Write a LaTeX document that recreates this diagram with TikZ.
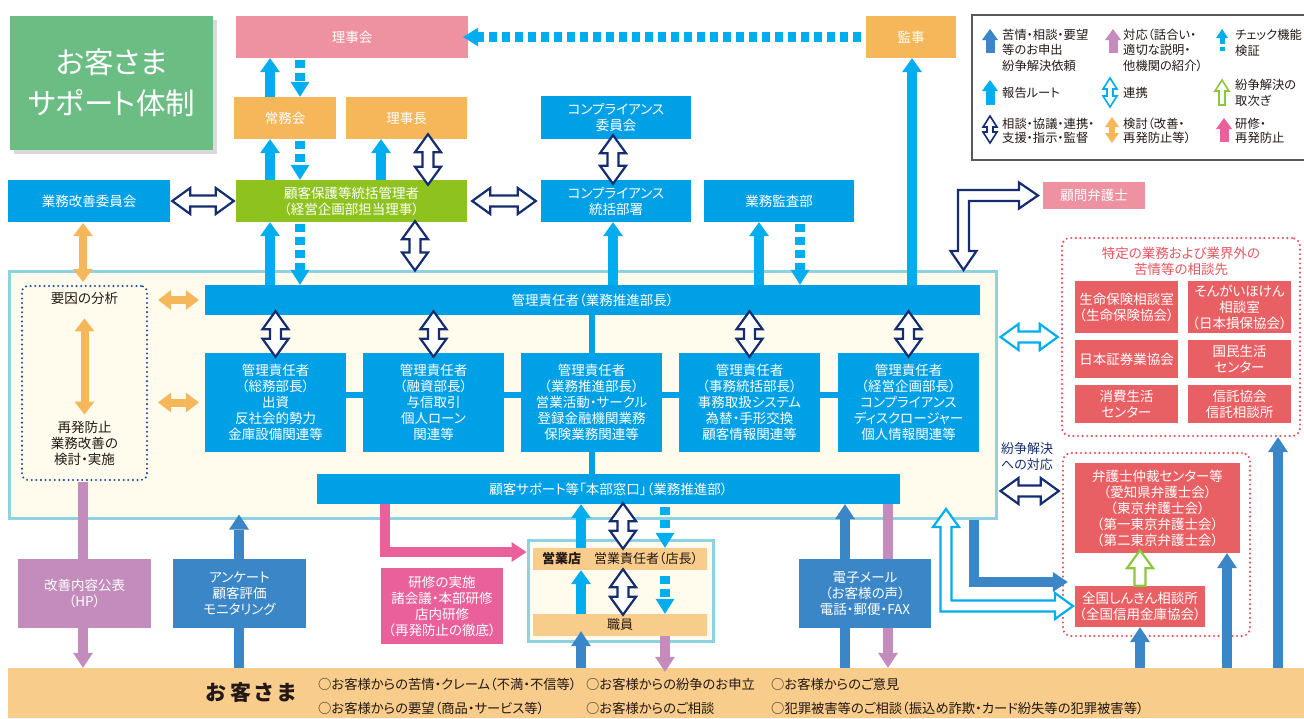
\documentclass[tikz,border=0pt]{standalone}
\usepackage{fontspec}
\setmainfont{Noto Sans CJK JP}[RawFeature={+palt}]
\usetikzlibrary{arrows.meta,calc,shadows}
\definecolor{cBlue}{RGB}{0,160,230}
\definecolor{cLBlue}{RGB}{0,174,239}
\definecolor{cSteel}{RGB}{58,134,199}
\definecolor{cPurple}{RGB}{196,140,188}
\definecolor{cPink}{RGB}{233,96,154}
\definecolor{cRose}{RGB}{238,145,160}
\definecolor{cOrange}{RGB}{246,182,90}
\definecolor{cOrangeL}{RGB}{248,204,138}
\definecolor{cGreen}{RGB}{141,194,31}
\definecolor{cTitle}{RGB}{107,189,132}
\definecolor{cRed}{RGB}{233,96,100}
\definecolor{cRedT}{RGB}{230,85,95}
\definecolor{cNavy}{RGB}{20,45,112}
\definecolor{cDot}{RGB}{31,78,158}
\definecolor{cCream}{RGB}{255,252,238}
\definecolor{cFrame}{RGB}{140,210,226}
\definecolor{cLGreen}{RGB}{141,198,63}
\definecolor{cText}{RGB}{35,24,21}
\pgfdeclarelayer{back}
\pgfdeclarelayer{mid}
\pgfsetlayers{back,mid,main}
\def\hdL{18pt}\def\hdH{13pt}\def\hdW{5.5pt}
\newcommand{\hdbl}[4]{%
  \coordinate (hA) at ($(#3)!#2pt!180:(#4)$);
  \coordinate (hB) at ($(#4)!#2pt!180:(#3)$);
  \draw[hol, draw=#1] (hA)
   -- ($(hA)!\hdL!(hB)!\hdH!90:(hB)$) -- ($(hA)!\hdL!(hB)!\hdW!90:(hB)$)
   -- ($(hB)!\hdL!(hA)!\hdW!-90:(hA)$) -- ($(hB)!\hdL!(hA)!\hdH!-90:(hA)$)
   -- (hB)
   -- ($(hB)!\hdL!(hA)!\hdH!90:(hA)$) -- ($(hB)!\hdL!(hA)!\hdW!90:(hA)$)
   -- ($(hA)!\hdL!(hB)!\hdW!-90:(hB)$) -- ($(hA)!\hdL!(hB)!\hdH!-90:(hB)$)
   -- cycle;}
\newcommand{\hsgl}[4]{%
  \coordinate (hA) at (#3);
  \coordinate (hB) at ($(#4)!#2pt!180:(#3)$);
  \draw[hol, draw=#1] ($(hA)!\hdW!90:(hB)$)
   -- ($(hB)!\hdL!(hA)!\hdW!-90:(hA)$) -- ($(hB)!\hdL!(hA)!\hdH!-90:(hA)$)
   -- (hB)
   -- ($(hB)!\hdL!(hA)!\hdH!90:(hA)$) -- ($(hB)!\hdL!(hA)!\hdW!90:(hA)$)
   -- ($(hA)!\hdW!-90:(hB)$) -- cycle;}
\tikzset{
 bx/.style={inner sep=0pt, text=white, align=center, font=\fontsize{13.5pt}{16pt}\selectfont},
 box/.style n args={3}{bx, fill=#1, minimum width=#2pt, minimum height=#3pt},
 tx/.style={inner sep=0pt, text=cText, align=center, font=\fontsize{13.5pt}{16pt}\selectfont},
 legt/.style={inner sep=0pt, text=cText, align=left, anchor=west, font=\fontsize{12.3pt}{15.5pt}\selectfont},
 bt/.style={inner sep=0pt, text=cText, anchor=west, font=\fontsize{13.3pt}{15pt}\selectfont},
 rep/.style={draw=cLBlue, line width=10pt, -{Triangle[width=20pt,length=14pt,line width=0pt]}},
 chk/.style={draw=cLBlue, line width=10pt, dash pattern=on 8pt off 5pt, -{Triangle[width=19pt,length=15pt,line width=0pt]}},
 cmp/.style={draw=cSteel, line width=10pt, -{Triangle[width=20pt,length=15pt,line width=0pt]}},
 rsp/.style={draw=cPurple, line width=10pt, -{Triangle[width=20pt,length=15pt,line width=0pt]}},
 trn/.style={draw=cPink, line width=10pt, -{Triangle[width=20pt,length=15pt,line width=0pt]}},
 orng/.style={draw=cOrange, line width=8pt, {Triangle[width=20pt,length=13pt,line width=0pt]}-{Triangle[width=20pt,length=13pt,line width=0pt]}},
 hol/.style={line width=2.2pt, fill=white, line join=miter},
 lnk/.style={draw=cBlue, line width=6pt},
 reddot/.style={draw=cRedT, dash pattern=on 0pt off 4.6pt, line cap=round, line width=2.4pt, rounded corners=8pt, inner sep=0pt},
}
\begin{document}
\begin{tikzpicture}[x=1pt,y=-1pt]
\useasboundingbox (0,0) rectangle (1304,718);
\foreach \n in {83,239,270,300,381,385,415,428,581,613,623,665,759,800,845,888,912,974,1140,1227,1278}{\coordinate (a\n) at (\n,0);}
\coordinate (d491) at (0,491);
\coordinate (d552) at (0,552);
\coordinate (d582) at (0,582);

\begin{pgfonlayer}{back}
\node[draw=cFrame, line width=3pt, fill=cCream, minimum width=987pt, minimum height=247pt, inner sep=0pt] (big) at (502.5,394.5) {};
\end{pgfonlayer}

% top nodes
\node[box={cTitle}{203}{134}, font=\fontsize{29.5pt}{41pt}\selectfont, drop shadow={shadow xshift=4pt,shadow yshift=-4pt,opacity=0.3}] (title) at (111.5,83) {お客さま\\サポート体制};
\node[box={cRose}{232}{42}] (rijikai) at (352,37) {理事会};
\node[box={cOrange}{90}{42}] (kanji) at (911,37) {監事};
\node[box={cOrange}{102}{42}] (jomu) at (285,118) {常務会};
\node[box={cOrange}{121}{42}] (rijicho) at (406.5,118) {理事長};
\node[box={cBlue}{150}{43}] (compI) at (616,117.5) {コンプライアンス\\委員会};
\node[box={cBlue}{162}{42}] (kaizen) at (89,201) {業務改善委員会};
\node[box={cGreen}{231}{42}] (kokyaku) at (351.5,201) {顧客保護等統括管理者\\（経営企画部担当理事）};
\node[box={cBlue}{150}{42}] (compT) at (616,201) {コンプライアンス\\統括部署};
\node[box={cBlue}{150}{42}] (kansa) at (779,201) {業務監査部};
\node[box={cRose}{102}{27}] (komon) at (1094,195.5) {顧問弁護士};

% inside big box
\node[draw=cDot, dash pattern=on 0pt off 4.6pt, line cap=round, line width=2.3pt, rounded corners=6pt, minimum width=125pt, minimum height=194pt, inner sep=0pt] (youin) at (84.5,383) {};
\node[tx] (youinT) at (84.5,298) {要因の分析};
\node[tx] (youinB) at (84.5,443) {再発防止\\業務改善の\\検討・実施};
\node[box={cBlue}{775}{30}] (bar) at (592.5,300) {管理責任者（業務推進部長）};
\node[box={cBlue}{141}{99}] (m1) at (275.5,402.5) {管理責任者\\（総務部長）\\出資\\反社会的勢力\\金庫設備関連等};
\node[box={cBlue}{141}{99}] (m2) at (433.5,402.5) {管理責任者\\（融資部長）\\与信取引\\個人ローン\\関連等};
\node[box={cBlue}{141}{99}] (m3) at (591.5,402.5) {管理責任者\\（業務推進部長）\\営業活動・サークル\\登録金融機関業務\\保険業務関連等};
\node[box={cBlue}{141}{99}] (m4) at (749.5,402.5) {管理責任者\\（事務統括部長）\\事務取扱システム\\為替・手形交換\\顧客情報関連等};
\node[box={cBlue}{141}{99}] (m5) at (908.5,402.5) {管理責任者\\（経営企画部長）\\コンプライアンス\\ディスクロージャー\\個人情報関連等};
\node[box={cBlue}{583}{30}] (sup) at (608.5,489) {顧客サポート等「本部窓口」（業務推進部）};

% right side
\node[reddot, minimum width=238pt, minimum height=198pt] (redA) at (1181,337) {};
\node[tx, text=cRedT] (redT) at (1181,261) {特定の業務および業界外の\\苦情等の相談先};
\node[box={cRed}{103}{52}] (r1) at (1126.5,307) {生命保険相談室\\（生命保険協会）};
\node[box={cRed}{103}{52}] (r2) at (1239.5,307) {そんがいほけん\\相談室\\（日本損保協会）};
\node[box={cRed}{103}{38}] (r3) at (1126.5,359) {日本証券業協会};
\node[box={cRed}{103}{38}] (r4) at (1239.5,359) {国民生活\\センター};
\node[box={cRed}{103}{38}] (r5) at (1126.5,404) {消費生活\\センター};
\node[box={cRed}{103}{38}] (r6) at (1239.5,404) {信託協会\\信託相談所};
\node[tx, text=cNavy, font=\fontsize{13pt}{16pt}\selectfont] (funso) at (1027,457) {紛争解決\\への対応};
\node[reddot, minimum width=187pt, minimum height=183pt] (redB) at (1156.5,544.5) {};
\node[box={cRed}{165}{90}] (bengo) at (1157.5,508) {弁護士仲裁センター等\\（愛知県弁護士会）\\（東京弁護士会）\\（第一東京弁護士会）\\（第二東京弁護士会）};
\node[box={cRed}{130}{41}] (zenkoku) at (1140,606.5) {全国しんきん相談所\\（全国信用金庫協会）};

% bottom
\node[box={cPurple}{133}{69}] (hp) at (84.5,593.5) {改善内容公表\\（HP）};
\node[box={cSteel}{133}{69}] (anketo) at (239.5,593.5) {アンケート\\顧客評価\\モニタリング};
\node[box={cPink}{122}{76}] (kenshu) at (442,606) {研修の実施\\諸会議・本部研修\\店内研修\\（再発防止の徹底）};
\node[draw=cFrame, line width=3pt, fill=cCream, minimum width=185pt, minimum height=101pt, inner sep=0pt] (eigyo) at (620.5,590.5) {};
\node[box={cOrangeL}{174}{22}, text=cText, font=\fontsize{13pt}{15pt}\selectfont] (row1) at (620,559) {\textbf{営業店}\hspace{13pt}営業責任者（店長）};
\node[box={cOrangeL}{174}{22}, text=cText, font=\fontsize{13pt}{15pt}\selectfont] (row2) at (620,625) {職員};
\node[box={cSteel}{132}{69}] (denshi) at (865,593.5) {電子メール\\（お客様の声）\\電話・郵便・FAX};
\node[fill=cOrangeL, minimum width=1296pt, minimum height=50pt, inner sep=0pt] (okyaku) at (656,693) {};
\node[inner sep=0pt, text=cText, font=\fontsize{21pt}{21pt}\selectfont\bfseries] (okT) at (251,693) {お\hspace{4pt}客\hspace{4pt}さ\hspace{4pt}ま};
\node[bt] (o1) at (318,684) {○お客様からの苦情・クレーム（不満・不信等）};
\node[bt] (o2) at (318,708) {○お客様からの要望（商品・サービス等）};
\node[bt] (o3) at (586,684) {○お客様からの紛争のお申立};
\node[bt] (o4) at (586,708) {○お客様からのご相談};
\node[bt] (o5) at (771,684) {○お客様からのご意見};
\node[bt] (o6) at (771,708) {○犯罪被害等のご相談（振込め詐欺・カード紛失等の犯罪被害等）};

% legend
\node[draw=black!65, line width=1.3pt, minimum width=340pt, minimum height=145pt, inner sep=0pt] (leg) at (1142,87.5) {};
\node[legt] (l1) at (1002,50) {苦情・相談・要望\\等のお申出\\紛争解決依頼};
\node[legt] (l2) at (1123,50) {対応（話合い・\\適切な説明・\\他機関の紹介）};
\node[legt] (l3) at (1235,43) {チェック機能\\検証};
\node[legt] (l4) at (1002,93) {報告ルート};
\node[legt] (l5) at (1123,93) {連携};
\node[legt] (l6) at (1235,93) {紛争解決の\\取次ぎ};
\node[legt, font=\fontsize{12.3pt}{13.5pt}\selectfont] (l7) at (1002,131) {相談・協議・連携・\\支援・指示・監督};
\node[legt, font=\fontsize{12.3pt}{13.5pt}\selectfont] (l8) at (1123,131) {検討（改善・\\再発防止等）};
\node[legt, font=\fontsize{12.3pt}{13.5pt}\selectfont] (l9) at (1235,131) {研修・\\再発防止};

\draw[cmp, line width=9pt, -{Triangle[width=16pt,length=11pt,line width=0pt]}] (990,53) -- (990,29);
\draw[rsp, line width=9pt, -{Triangle[width=16pt,length=11pt,line width=0pt]}] (1113,53) -- (1113,29);
\draw[draw=cLBlue, line width=5pt, -{Triangle[width=12pt,length=9pt,line width=0pt]}] (1222,44) -- (1222,29);
\fill[cLBlue] (1219.5,47) rectangle (1224.5,50.5);
\draw[rep, line width=9pt, -{Triangle[width=16pt,length=11pt,line width=0pt]}] (990,105) -- (990,80);
\draw[orng, line width=6pt, {Triangle[width=14pt,length=10pt,line width=0pt]}-{Triangle[width=14pt,length=10pt,line width=0pt]}] (1112,117) -- (1112,143);
\draw[trn, line width=9pt, -{Triangle[width=16pt,length=11pt,line width=0pt]}] (1224,142) -- (1224,118);
\begin{scope}
\def\hdL{11pt}\def\hdH{7pt}\def\hdW{3pt}
\tikzset{hol/.append style={line width=1.6pt}}
\hdbl{cLBlue}{0}{1110,78}{1110,107}
\hsgl{cLGreen}{0}{1222,105}{1222,80}
\hdbl{cNavy}{0}{990,116}{990,143}
\end{scope}

% links behind boxes
\begin{pgfonlayer}{mid}
\draw[lnk] ([yshift=8pt]m1.center) -- ([yshift=8pt]m5.center);
\draw[lnk] (bar.center -| m3.center) -- (sup.center -| m3.center);
\draw[rsp, shorten <=1pt] (youin.south -| a83) -- (okyaku.north -| a83);
\draw[cmp, shorten >=-5pt] (okyaku.north -| a239) -- (big.south -| a239);
\draw[cmp] (okyaku.north -| a845) -- (sup.south -| a845);
\draw[rsp] (sup.south -| a888) -- (okyaku.north -| a888);
\end{pgfonlayer}

% top connectors
\draw[rep] (jomu.north -| a270) -- (rijikai.south -| a270);
\draw[chk, shorten <=2pt] (rijikai.south -| a300) -- (jomu.north -| a300);
\draw[rep] (kokyaku.north -| a270) -- (jomu.south -| a270);
\draw[chk, shorten <=2pt] (jomu.south -| a300) -- (kokyaku.north -| a300);
\draw[rep] (kokyaku.north -| a381) -- (rijicho.south -| a381);
\hdbl{cNavy}{5}{rijicho.south -| a428}{kokyaku.north -| a428}
\draw[rep] (bar.north -| a270) -- (kokyaku.south -| a270);
\draw[chk, shorten <=2pt] (kokyaku.south -| a300) -- (bar.north -| a300);
\hdbl{cNavy}{1}{kokyaku.south -| a415}{big.north -| a415}
\hdbl{cNavy}{-2}{kaizen.east}{kokyaku.west}
\hdbl{cNavy}{-5}{kokyaku.east}{compT.west}
\hdbl{cNavy}{4}{compI.south -| a613}{compT.north -| a613}
\draw[rep] (bar.north -| a613) -- (compT.south -| a613);
\draw[rep] (bar.north -| a759) -- (kansa.south -| a759);
\draw[chk, shorten <=2pt] (kansa.south -| a800) -- (bar.north -| a800);
\draw[rep] (bar.north -| a912) -- (kanji.south -| a912);
\draw[chk, shorten <=5pt, shorten >=-5pt] (kanji.west) -- (rijikai.east);
\foreach \m in {m1,m2,m4,m5}{\hdbl{cNavy}{4}{bar.south -| \m}{\m.north}}

% orange
\draw[orng, shorten <=1pt, shorten >=3pt] (kaizen.south -| a83) -- (youin.north -| a83);
\draw[orng] ($(youinT.south)+(0,14)$) -- ($(youinB.north)+(0,-6)$);
\draw[orng, shorten <=10pt, shorten >=6pt] (youin.east |- bar.west) -- (bar.west);
\draw[orng, shorten <=10pt, shorten >=6pt] (youin.east |- m1.west) -- (m1.west);

% right connectors
\draw[hol, draw=cNavy] (963.5,270) -- (976.5,251) -- (969,251) -- (969,201) -- (1019,201) -- (1019,208.5) -- (1038,195.5) -- (1019,182.5) -- (1019,190) -- (958,190) -- (958,251) -- (950.5,251) -- cycle;
\hdbl{cLBlue}{-3}{big.east |- redA.west}{redA.west}
\hdbl{cNavy}{-3}{big.east |- d491}{redB.west |- d491}
\draw[cmp, shorten >=-6pt] (big.south -| a974) |- (redB.west |- d582);
\draw[hol, draw=cLBlue] (946,509) -- (959,527) -- (951.5,527) -- (951.5,600.5) -- (1055,600.5) -- (1055,593) -- (1073,606) -- (1055,619) -- (1055,611.5) -- (940.5,611.5) -- (940.5,527) -- (933,527) -- cycle;
\hsgl{cLGreen}{3}{zenkoku.north -| a1140}{bengo.south -| a1140}
\draw[cmp] (okyaku.north -| a1140) -- (zenkoku.south -| a1140);
\draw[cmp] (okyaku.north -| a1227) -- (bengo.south -| a1227);
\draw[cmp] (okyaku.north -| a1278) -- (redA.south -| a1278);

% store
\draw[trn] (sup.south -| a385) |- (eigyo.west |- d552);
\draw[rep] (row1.north -| a581) -- (sup.south -| a581);
\hdbl{cNavy}{1}{sup.south -| a623}{row1.north -| a623}
\draw[chk, shorten <=3pt] (sup.south -| a665) -- (row1.north -| a665);
\draw[rep] (row2.north -| a581) -- (row1.south -| a581);
\hdbl{cNavy}{1}{row1.south -| a623}{row2.north -| a623}
\draw[chk, shorten <=6pt] (row1.south -| a665) -- (row2.north -| a665);
\draw[cmp, shorten >=-5pt] (okyaku.north -| a581) -- (row2.south -| a581);
\draw[rsp, shorten >=-4pt] (row2.south -| a665) -- (okyaku.north -| a665);
\end{tikzpicture}
\end{document}
